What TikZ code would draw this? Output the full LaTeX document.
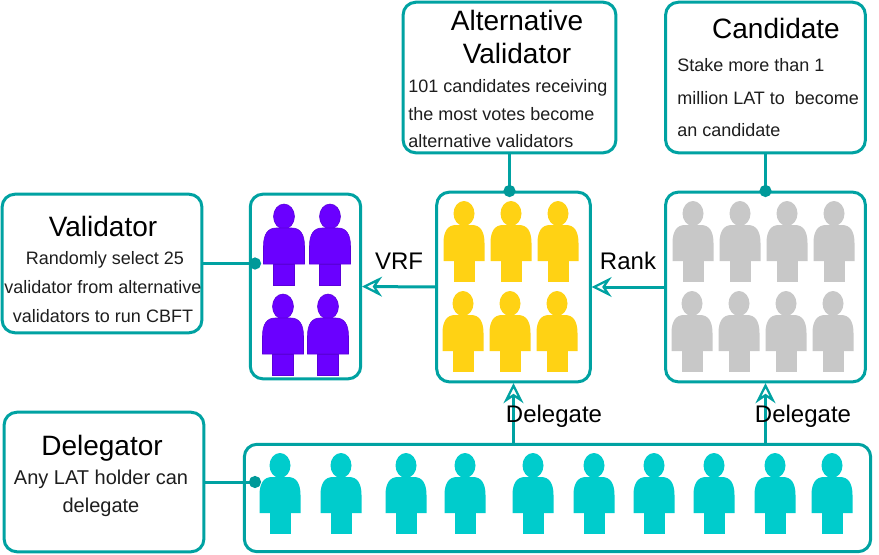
\documentclass[tikz,border=0pt]{standalone}
\usepackage{fontspec}
\setmainfont{Liberation Sans}
\usepackage{xcolor}
\usetikzlibrary{arrows.meta}
\definecolor{cLine}{RGB}{0,162,162}
\definecolor{cDot}{RGB}{0,153,153}
\definecolor{cVal}{RGB}{106,0,255}
\definecolor{cAlt}{RGB}{255,210,20}
\definecolor{cCan}{RGB}{200,200,200}
\definecolor{cDel}{RGB}{0,204,204}
\definecolor{cText}{RGB}{30,30,30}
\tikzset{
  person/.pic={
    \path[pic actions] (0,12.5) ellipse [x radius=10.5, y radius=12.5];
    \path[pic actions] (-20.5,60) -- (-20.5,42) .. controls (-20.5,30) and (-16,24) .. (-8,24)
      -- (8,24) .. controls (16,24) and (20.5,30) .. (20.5,42) -- (20.5,60) -- cycle;
    \path[pic actions] (-10.5,60) rectangle (10.5,81);
  }
}
\begin{document}
\begin{tikzpicture}[x=0.75pt, y=-0.75pt,
  box/.style={draw=cLine, line width=2.25pt, rounded corners=9.5pt, fill=white, outer sep=0pt, inner sep=0pt},
  title/.style={font=\fontsize{21}{25}\selectfont, text=black, inner sep=0pt, align=center},
  body/.style={text=cText, inner sep=0pt},
  tag/.style={font=\fontsize{18}{22}\selectfont, text=black, inner sep=0pt},
  flow/.style={draw=cLine, line width=2.25pt, shorten >=1pt, -{Stealth[length=15pt, width=15pt, inset=5pt, fill=white, line width=1.7pt]}},
  tie/.style={draw=cLine, line width=2.25pt, -{Circle[cDot, length=9pt, width=9pt]}}
]
  \useasboundingbox (0,0) rectangle (879,554);

  % info boxes
  \node[box, minimum width=199bp*0.75, minimum height=138bp*0.75] (validator) at (102,263.5) {};
  \node[box, minimum width=212bp*0.75, minimum height=150bp*0.75] (alternative) at (509.5,77.5) {};
  \node[box, minimum width=199bp*0.75, minimum height=150bp*0.75] (candidate) at (765.5,77.5) {};
  \node[box, minimum width=199bp*0.75, minimum height=139bp*0.75] (delegator) at (104,482) {};

  % crowds
  \node[box, minimum width=110bp*0.75, minimum height=184bp*0.75] (valset) at (305.5,286.5) {};
  \node[box, minimum width=153bp*0.75, minimum height=189bp*0.75] (altset) at (513.5,287) {};
  \node[box, minimum width=199bp*0.75, minimum height=189bp*0.75] (canset) at (765.5,287) {};
  \node[box, minimum width=624bp*0.75, minimum height=107bp*0.75] (delset) at (557.5,498) {};

  \foreach \px/\py in {284/204, 330/204, 283/294, 328/294}
    \pic[fill=cVal, draw=cVal!85!black, line width=0.4pt] at (\px,\py) {person};
  \foreach \px/\py in {464/201, 511/201, 558/201, 463/291, 510/291, 557/291}
    \pic[fill=cAlt] at (\px,\py) {person};
  \foreach \px in {693, 740, 787, 834}
    \pic[fill=cCan] at (\px,201) {person};
  \foreach \px in {692, 739, 786, 833}
    \pic[fill=cCan] at (\px,291) {person};
  \foreach \px in {280, 341, 406, 465, 533, 594, 654, 714, 775, 832}
    \pic[fill=cDel] at (\px,453) {person};

  % texts
  \node[title] (validatorT) at (103,226) {Validator};
  \node[body, align=center, font=\fontsize{13.5}{21.7}\selectfont] (validatorB) at (103,287)
    {\hspace*{3pt}Randomly select 25\\validator from alternative\\validators to run CBFT};
  \node[title, font=\fontsize{21}{24.7}\selectfont] (alternativeT) at (517,37) {Alternative\\Validator};
  \node[body, align=left, anchor=west, font=\fontsize{13.5}{20.6}\selectfont] (alternativeB) at (408,114)
    {101 candidates receiving\\the most votes become\\alternative validators};
  \node[title] (candidateT) at (776,28) {Candidate};
  \node[body, align=left, anchor=west, font=\fontsize{13.5}{24.4}\selectfont] (candidateB) at (677,98)
    {Stake more than 1\\million LAT to\ \ become\\an candidate};
  \node[title] (delegatorT) at (102,448) {Delegator};
  \node[body, align=center, font=\fontsize{15}{21}\selectfont] (delegatorB) at (101,493)
    {Any LAT holder can\\delegate};

  % connectors
  \coordinate (valport) at (261,263.5);
  \coordinate (altport) at (509.5,197);
  \coordinate (canport) at (765.5,197);
  \coordinate (delport) at (261,482);
  \draw[tie] (validator.east) -- (valport);
  \draw[tie] (alternative.south) -- (altport);
  \draw[tie] (candidate.south) -- (canport);
  \draw[tie] (delegator.east) -- (delport);
  \draw[flow] (altset.west) -- (valset.east);
  \draw[flow] (canset.west) -- (altset.east);
  \draw[flow] (altset.south |- delset.north) -- (altset.south);
  \draw[flow] (canset.south |- delset.north) -- (canset.south);

  \node[tag] (vrfL) at (399,261) {VRF};
  \node[tag] (rankL) at (628,261) {Rank};
  \node[tag] (delegateA) at (554,416.5) {Delegate};
  \node[tag] (delegateB) at (803,416.5) {Delegate};
\end{tikzpicture}
\end{document}
